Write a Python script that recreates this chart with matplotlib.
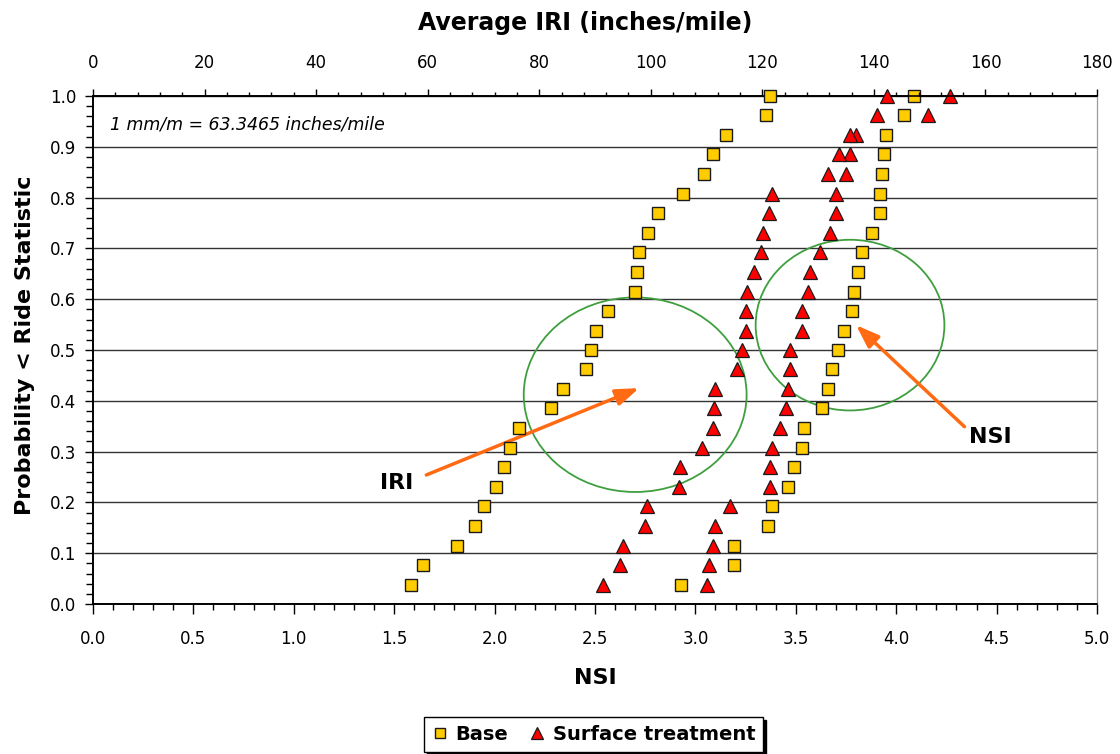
import matplotlib as mpl

mpl.use("Agg")
import matplotlib.pyplot as plt
from matplotlib.patches import Ellipse
from matplotlib.ticker import MultipleLocator

# cumulative probability (plotting positions)
prob = [0.038, 0.077, 0.115, 0.154, 0.192, 0.231, 0.269, 0.308, 0.346, 0.385,
        0.423, 0.462, 0.500, 0.538, 0.577, 0.615, 0.654, 0.692, 0.731, 0.769,
        0.808, 0.846, 0.885, 0.923, 0.962, 1.000]

# average IRI, inches/mile (top axis)
base_iri = [57.0, 59.2, 65.2, 68.4, 70.1, 72.3, 73.7, 74.8, 76.4, 82.1,
            84.2, 88.3, 89.2, 90.2, 92.4, 97.2, 97.6, 97.9, 99.5, 101.3,
            105.7, 109.5, 111.2, 113.5, 120.6, 121.4]
st_iri = [91.5, 94.5, 95.0, 98.9, 99.3, 105.0, 105.3, 109.1, 111.2, 111.4,
          111.5, 115.5, 116.4, 117.0, 117.0, 117.2, 118.5, 119.7, 120.1, 121.2,
          121.7, 131.8, 133.7, 135.7, 140.6, 142.4]

# NSI (bottom axis)
base_nsi = [2.93, 3.19, 3.19, 3.36, 3.38, 3.46, 3.49, 3.53, 3.54, 3.63,
            3.66, 3.68, 3.71, 3.74, 3.78, 3.79, 3.81, 3.83, 3.88, 3.92,
            3.92, 3.93, 3.94, 3.95, 4.04, 4.09]
st_nsi = [3.06, 3.07, 3.09, 3.10, 3.17, 3.37, 3.37, 3.38, 3.42, 3.45,
          3.46, 3.47, 3.47, 3.53, 3.53, 3.56, 3.57, 3.62, 3.67, 3.70,
          3.70, 3.75, 3.77, 3.80, 4.16, 4.27]

plt.rcParams["font.family"] = ["DejaVu Sans"]

fig = plt.figure(figsize=(11.2, 7.54), dpi=100)
ax = fig.add_axes([93 / 1120, 1 - 604 / 754, 1004 / 1120, 508 / 754])
ax_top = ax.twiny()
ax_top.patch.set_visible(False)

square_kw = dict(marker="s", color="none", markerfacecolor="#FFCC00",
                 markeredgecolor="#1a1a1a", markersize=8.2, markeredgewidth=1.0,
                 linestyle="none", clip_on=False, zorder=4)
tri_kw = dict(marker="^", color="none", markerfacecolor="#FF0000",
              markeredgecolor="#1a1a1a", markersize=9.5, markeredgewidth=0.9,
              linestyle="none", clip_on=False, zorder=4)

ax.plot(base_nsi, prob, **square_kw)
ax.plot(st_nsi, prob, **tri_kw)
ax_top.plot(base_iri, prob, **square_kw)
ax_top.plot(st_iri, prob, **tri_kw)

ax.set_xlim(0, 5)
ax.set_ylim(0, 1)
ax_top.set_xlim(0, 180)

ax.xaxis.set_major_locator(MultipleLocator(0.5))
ax.xaxis.set_minor_locator(MultipleLocator(0.1))
ax.yaxis.set_major_locator(MultipleLocator(0.1))
ax.yaxis.set_minor_locator(MultipleLocator(0.02))
ax_top.xaxis.set_major_locator(MultipleLocator(20))
ax_top.xaxis.set_minor_locator(MultipleLocator(4))
ax.xaxis.set_major_formatter(lambda v, p: f"{v:.1f}")
ax.yaxis.set_major_formatter(lambda v, p: f"{v:.1f}")

ax.tick_params(axis="x", which="major", direction="out", length=7, width=1,
               labelsize=12, pad=12)
ax.tick_params(axis="x", which="minor", direction="out", length=4, width=1)
ax.tick_params(axis="y", which="major", direction="out", length=6, width=1,
               labelsize=12, pad=6)
ax.tick_params(axis="y", which="minor", direction="out", length=5, width=1)
ax_top.tick_params(axis="x", which="major", direction="out", length=5, width=1,
                   labelsize=12, pad=12)
ax_top.tick_params(axis="x", which="minor", direction="out", length=3, width=1)

for sp in ("left", "bottom", "top"):
    ax.spines[sp].set_linewidth(1.2)
    ax_top.spines[sp].set_linewidth(1.2)
ax.spines["right"].set_color("#9a9a9a")
ax_top.spines["right"].set_color("#9a9a9a")

ax.grid(axis="y", which="major", color="#333333", linewidth=1.0)
ax.set_axisbelow(True)

ax.set_xlabel("NSI", fontsize=16, fontweight="bold")
ax.xaxis.set_label_coords(0.5, -0.125)
ax_top.set_xlabel("Average IRI (inches/mile)", fontsize=17, fontweight="bold")
ax_top.xaxis.set_label_coords(0.49, 1.13)
ax.set_ylabel("Probability < Ride Statistic", fontsize=16, fontweight="bold")
ax.yaxis.set_label_coords(-0.058, 0.51)

ax.text(0.085, 0.943, "1 mm/m = 63.3465 inches/mile", fontsize=12.5,
        style="italic", ha="left", va="center")

circle_kw = dict(fill=False, edgecolor="#3f9f3f", linewidth=1.3, zorder=3)
ax.add_patch(Ellipse((2.70, 0.412), 1.11, 0.383, **circle_kw))
ax.add_patch(Ellipse((3.77, 0.549), 0.94, 0.336, **circle_kw))

arrow_kw = dict(arrowstyle="-|>,head_length=0.7,head_width=0.25",
                color="#FF6A13", linewidth=2.5, mutation_scale=20,
                shrinkA=0, shrinkB=0)
ax.annotate("", xy=(2.72, 0.425), xytext=(1.66, 0.254),
            arrowprops=arrow_kw, zorder=5)
ax.annotate("", xy=(3.80, 0.549), xytext=(4.34, 0.349),
            arrowprops=arrow_kw, zorder=5)
ax.text(1.51, 0.238, "IRI", fontsize=16, fontweight="bold", ha="center",
        va="center")
ax.text(4.47, 0.328, "NSI", fontsize=16, fontweight="bold", ha="center",
        va="center")

handles = [
    plt.Line2D([], [], **{**square_kw, "markersize": 7}),
    plt.Line2D([], [], **{**tri_kw, "markersize": 8}),
]
leg = fig.legend(handles, ["Base", "Surface treatment"], ncol=2,
                 loc="upper left", bbox_to_anchor=(424 / 1120, 1 - 717 / 754),
                 frameon=True, fancybox=False, edgecolor="black",
                 shadow={"color": "black", "alpha": 1.0, "ox": 2, "oy": -2},
                 prop={"weight": "bold", "size": 14},
                 handlelength=0.8, handletextpad=0.4, columnspacing=1.1,
                 borderpad=0.4, borderaxespad=0)
leg.get_frame().set_linewidth(1.0)

fig.savefig("out.png", dpi=100)
